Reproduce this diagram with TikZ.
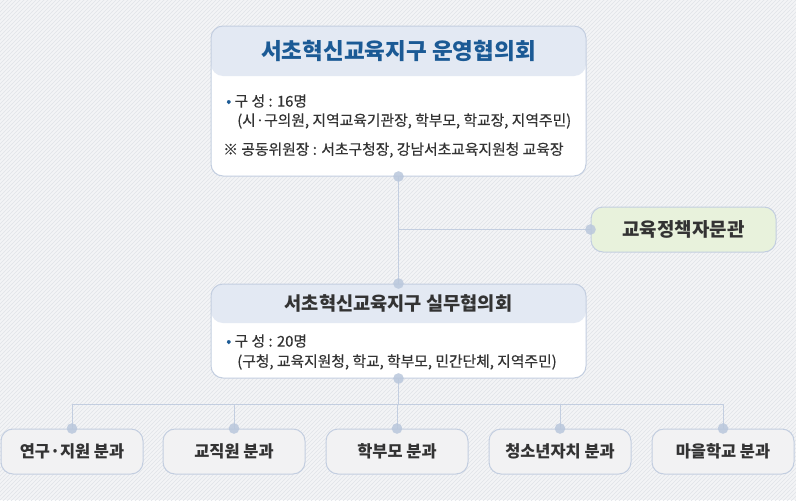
\documentclass[tikz,border=0pt]{standalone}
\usepackage{fontspec}
\setmainfont{Noto Sans CJK KR}
\newfontfamily\medfont[FakeBold=0.5]{Noto Sans CJK KR}
\usetikzlibrary{patterns}
\definecolor{bgc}{HTML}{F3F4F6}
\definecolor{hatch}{HTML}{E0E3E8}
\definecolor{edge}{HTML}{C3CEE0}
\definecolor{head}{HTML}{E3E9F3}
\definecolor{advc}{HTML}{E8F2DC}
\definecolor{unitc}{HTML}{F2F2F3}
\definecolor{titleblue}{HTML}{1B5A95}
\definecolor{txt}{HTML}{333333}
\definecolor{dotc}{HTML}{B9C7DC}

\begin{document}
\begin{tikzpicture}[x=.75pt,y=-.75pt,
	panel/.style={draw=edge,line width=.75pt,fill=white,rounded corners=9pt},
	unit/.style={panel,fill=unitc,minimum width=106.5pt,minimum height=33.75pt,font=\fontsize{12.3}{14}\selectfont\bfseries,text=txt},
	row/.style={anchor=west,inner sep=0pt,font=\fontsize{11.1}{13}\selectfont\medfont,text=txt},
	link/.style={draw=edge,line width=.75pt},
	dot/.style={fill=dotc,fill opacity=.85}]
					\useasboundingbox (0,0) rectangle (796,500);
					\fill[bgc] (0,0) rectangle (796,500);
					\fill[pattern=north east lines,pattern color=hatch] (0,0) rectangle (796,500);
						% boxes
						\node(council)[panel,minimum width=281.25pt,minimum height=112.5pt,
							path picture={\fill[head] (path picture bounding box.north west) rectangle ([yshift=-37.5pt]path picture bounding box.north east);}] at (398.5,101) {};
						\node(work)[panel,minimum width=281.25pt,minimum height=70.5pt,
							path picture={\fill[head] (path picture bounding box.north west) rectangle ([yshift=-29.25pt]path picture bounding box.north east);}] at (398.5,331) {};
						\node(advisor)[panel,fill=advc,minimum width=138.75pt,minimum height=33.75pt,font=\fontsize{14.2}{16}\selectfont\bfseries,text=txt] at (683.5,229.5) {교육정책자문관};
						\foreach \n/\x/\t in {1/72/연구·지원 분과,2/234/교직원 분과,3/397/학부모 분과,4/560/청소년자치 분과,5/723/마을학교 분과}
							\node(g\n)[unit] at (\x,451.5) {\t};
						% texts
						\node(t1)[font=\fontsize{16.9}{20}\selectfont\bfseries,text=titleblue] at (398.5,51) {서초혁신교육지구 운영협의회};
						\node(r1)[row] at (226,101) {\textcolor{titleblue}{•}\ 구 성 : 16명};
						\node(r2)[row] at (237,121) {(시·구의원, 지역교육기관장, 학부모, 학교장, 지역주민)};
						\node(r3)[row] at (223,150) {※ 공동위원장 : 서초구청장, 강남서초교육지원청 교육장};
						\node(t2)[font=\fontsize{14}{16}\selectfont\bfseries,text=txt] at (398.5,303) {서초혁신교육지구 실무협의회};
						\node(r4)[row] at (226,341) {\textcolor{titleblue}{•}\ 구 성 : 20명};
						\node(r5)[row] at (237,362) {(구청, 교육지원청, 학교, 학부모, 민간단체, 지역주민)};
						% connectors
						\coordinate(bus) at ([yshift=-19.5pt]work.south);
						\draw[link] (council.south) -- (work.north);
						\draw[link] (council.south |- advisor.west) -- (advisor.west);
						\draw[link] (work.south) -- (bus);
						\foreach \n in {1,...,5}
							\draw[link] (bus) -| (g\n.north);
						\foreach \p in {council.south,work.north,work.south,advisor.west,g1.north,g2.north,g3.north,g4.north,g5.north}
							\fill[dot] (\p) circle (4pt);
				\end{tikzpicture}
\end{document}
